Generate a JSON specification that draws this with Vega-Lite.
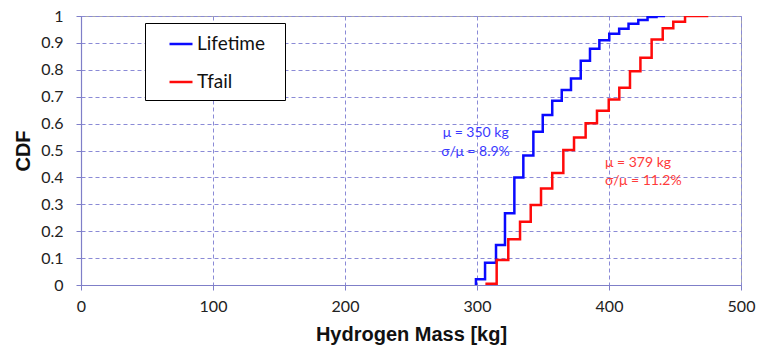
{
  "$schema": "https://vega.github.io/schema/vega-lite/v6.json",
  "width": 660,
  "height": 269,
  "autosize": {"type": "none"},
  "padding": {"left": 81, "top": 16, "right": 18, "bottom": 60},
  "background": "white",
  "config": {
    "view": {"stroke": "#a6a6a6", "strokeWidth": 1},
    "legend": {"strokeColor": "#000000", "fillColor": "white", "labelFontSize": 19, "labelFont": "Lato"},
    "axis": {
      "labelFont": "Lato",
      "labelFontSize": 16,
      "labelColor": "#222222",
      "labelFlush": false,
      "titleFont": "Liberation Sans",
      "titleFontSize": 20,
      "titleFontWeight": "bold",
      "titleColor": "#111111",
      "gridColor": "#8a8ad6",
      "gridDash": [4, 3],
      "gridWidth": 1,
      "gridOpacity": 1,
      "domainColor": "#7f7fc8",
      "domainWidth": 1.2,
      "tickColor": "#7f7fc8",
      "tickSize": 5
    }
  },
  "datasets": {
    "curves": [
      {"series": "Lifetime", "mass": 299.2, "cdf": 0},
      {"series": "Lifetime", "mass": 299.2, "cdf": 0.021},
      {"series": "Lifetime", "mass": 306.1, "cdf": 0.083},
      {"series": "Lifetime", "mass": 314.4, "cdf": 0.149},
      {"series": "Lifetime", "mass": 321.2, "cdf": 0.267},
      {"series": "Lifetime", "mass": 328.3, "cdf": 0.4},
      {"series": "Lifetime", "mass": 335.1, "cdf": 0.481},
      {"series": "Lifetime", "mass": 342.7, "cdf": 0.57},
      {"series": "Lifetime", "mass": 349.8, "cdf": 0.632},
      {"series": "Lifetime", "mass": 357.0, "cdf": 0.685},
      {"series": "Lifetime", "mass": 364.2, "cdf": 0.725},
      {"series": "Lifetime", "mass": 371.2, "cdf": 0.768},
      {"series": "Lifetime", "mass": 378.6, "cdf": 0.834},
      {"series": "Lifetime", "mass": 385.6, "cdf": 0.878},
      {"series": "Lifetime", "mass": 392.7, "cdf": 0.91},
      {"series": "Lifetime", "mass": 400.2, "cdf": 0.934},
      {"series": "Lifetime", "mass": 407.7, "cdf": 0.953},
      {"series": "Lifetime", "mass": 414.8, "cdf": 0.971},
      {"series": "Lifetime", "mass": 422.2, "cdf": 0.985},
      {"series": "Lifetime", "mass": 429.2, "cdf": 0.996},
      {"series": "Lifetime", "mass": 436.0, "cdf": 1.0},
      {"series": "Lifetime", "mass": 442.4, "cdf": 1.0},
      {"series": "Tfail", "mass": 307.3, "cdf": 0},
      {"series": "Tfail", "mass": 307.3, "cdf": 0.005},
      {"series": "Tfail", "mass": 314.9, "cdf": 0.093},
      {"series": "Tfail", "mass": 323.7, "cdf": 0.17},
      {"series": "Tfail", "mass": 332.6, "cdf": 0.235},
      {"series": "Tfail", "mass": 340.7, "cdf": 0.297},
      {"series": "Tfail", "mass": 348.5, "cdf": 0.359},
      {"series": "Tfail", "mass": 357.0, "cdf": 0.416},
      {"series": "Tfail", "mass": 365.4, "cdf": 0.502},
      {"series": "Tfail", "mass": 373.5, "cdf": 0.548},
      {"series": "Tfail", "mass": 382.3, "cdf": 0.601},
      {"series": "Tfail", "mass": 390.9, "cdf": 0.648},
      {"series": "Tfail", "mass": 399.8, "cdf": 0.69},
      {"series": "Tfail", "mass": 407.8, "cdf": 0.733},
      {"series": "Tfail", "mass": 415.9, "cdf": 0.795},
      {"series": "Tfail", "mass": 423.8, "cdf": 0.845},
      {"series": "Tfail", "mass": 432.3, "cdf": 0.913},
      {"series": "Tfail", "mass": 440.7, "cdf": 0.954},
      {"series": "Tfail", "mass": 448.7, "cdf": 0.979},
      {"series": "Tfail", "mass": 457.6, "cdf": 1.0},
      {"series": "Tfail", "mass": 475.2, "cdf": 1.0}
    ],
    "notes": [
      {"series": "Lifetime", "mass": 274, "cdf": 0.549, "label": "μ = 350 kg"},
      {"series": "Lifetime", "mass": 273, "cdf": 0.478, "label": "σ/μ = 8.9%"},
      {"series": "Tfail", "mass": 397, "cdf": 0.4375, "label": "μ = 379 kg"},
      {"series": "Tfail", "mass": 397, "cdf": 0.372, "label": "σ/μ = 11.2%"}
    ]
  },
  "encoding": {
    "x": {
      "field": "mass", "type": "quantitative",
      "scale": {"domain": [0, 500], "nice": false},
      "axis": {"values": [0, 100, 200, 300, 400, 500], "title": "Hydrogen Mass [kg]", "labelPadding": 8, "titlePadding": 10}
    },
    "y": {
      "field": "cdf", "type": "quantitative",
      "scale": {"domain": [0, 1], "nice": false},
      "axis": {"values": [0, 0.1, 0.2, 0.3, 0.4, 0.5, 0.6, 0.7, 0.8, 0.9, 1], "format": "~g", "labelOverlap": false, "title": "CDF", "labelPadding": 13, "titlePadding": 7}
    }
  },
  "layer": [
    {
      "data": {"name": "curves"},
      "mark": {"type": "line", "interpolate": "step-after", "strokeWidth": 2.5, "clip": true},
      "encoding": {
        "color": {
          "field": "series", "type": "nominal",
          "scale": {"domain": ["Lifetime", "Tfail"], "range": ["#0a0aff", "#ff0a0a"]},
          "legend": {
            "title": "\u2003",
            "titleOrient": "right",
            "titlePadding": 12,
            "titleColor": "white",
            "titleFontSize": 10,
            "orient": "none",
            "legendX": 64,
            "legendY": 7,
            "symbolType": "stroke",
            "symbolSize": 529,
            "symbolStrokeWidth": 2.5,
            "symbolOffset": 15,
            "labelFont": "Lato",
            "labelFontSize": 19,
            "labelColor": "#111111",
            "labelOffset": 3,
            "rowPadding": 15,
            "padding": 8,
            "fillColor": "white",
            "strokeColor": "#000000"
          }
        },
        "order": [{"field": "mass"}, {"field": "cdf"}]
      }
    },
    {
      "data": {"name": "notes"},
      "mark": {"type": "text", "align": "left", "baseline": "alphabetic", "font": "Lato", "fontSize": 14},
      "encoding": {
        "text": {"field": "label"},
        "color": {"field": "series", "type": "nominal", "scale": {"domain": ["Lifetime", "Tfail"], "range": ["#3a3aff", "#ff3a3a"]}, "legend": null}
      }
    }
  ],
  "resolve": {"scale": {"color": "independent"}}
}
